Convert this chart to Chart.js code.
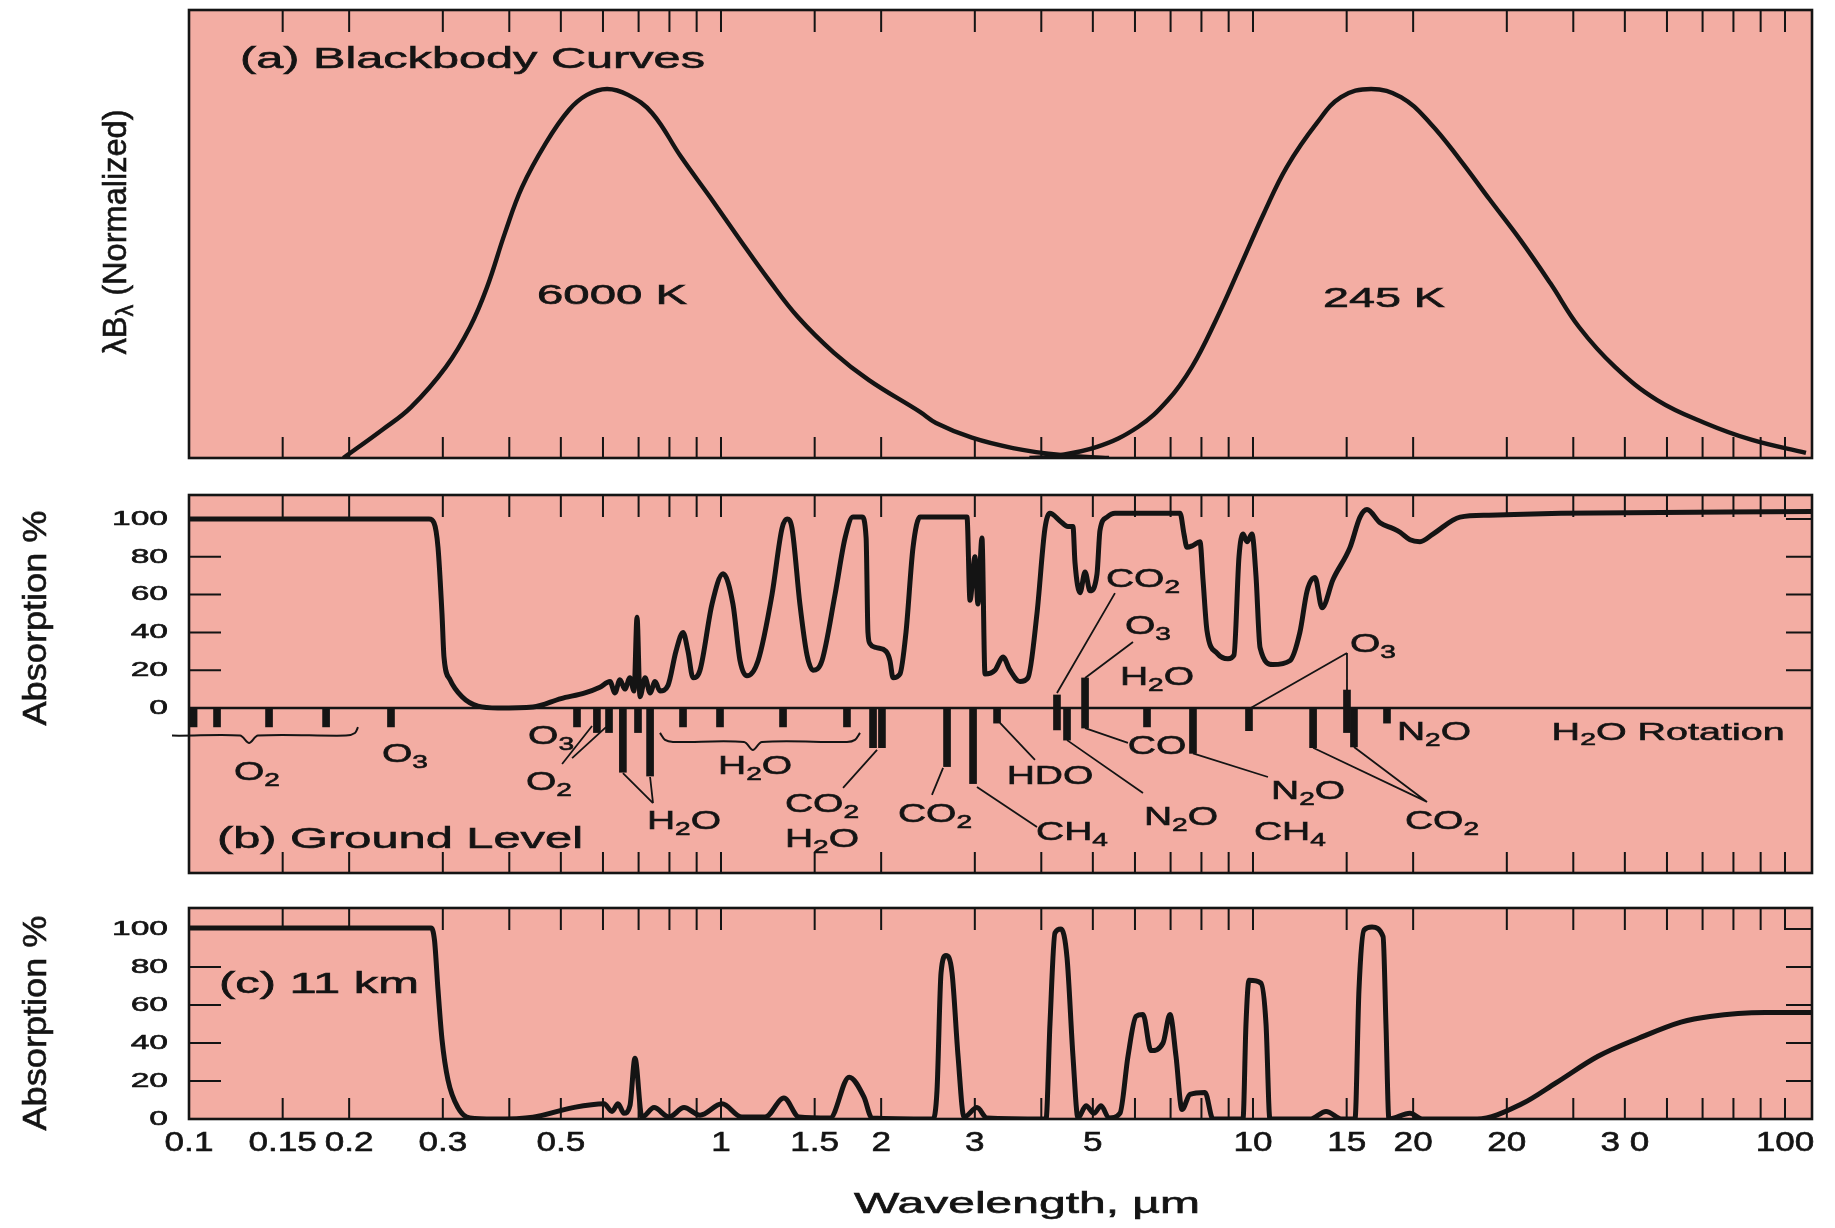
<!DOCTYPE html>
<html>
<head>
<meta charset="utf-8">
<script src="https://cdn.jsdelivr.net/npm/chart.js@4.4.1/dist/chart.umd.min.js"></script>
<style>
  html, body { margin: 0; padding: 0; background: #fff; }
  #wrap { position: relative; width: 1835px; height: 1228px; }
  canvas { position: absolute; left: 0; }
</style>
</head>
<body>
<div id="wrap">
  <canvas id="panelA" width="1835" height="470" style="top:0px"></canvas>
  <canvas id="panelB" width="1835" height="420" style="top:470px"></canvas>
  <canvas id="panelC" width="1835" height="338" style="top:890px"></canvas>
</div>
<script>
// wavelength axis (um), log scale
const X_MIN = 0.1, X_MAX = 112.4;
const PINK = '#F3ADA3';
const INK = '#141414';
const FONT = '"Liberation Sans", Arial, Helvetica, sans-serif';

// (a) blackbody curves, normalised lambda*B_lambda
const wl6000 = [0.195, 0.2306, 0.2615, 0.3041, 0.3375, 0.3633, 0.3926, 0.4227, 0.4688, 0.5178, 0.5598, 0.6107, 0.6687, 0.7419, 0.8412, 0.9535, 1.086, 1.231, 1.395, 1.631, 1.897, 2.366, 2.536, 2.963, 3.539, 4.356, 5.362];
const bb6000 = [0, 0.076, 0.138, 0.247, 0.355, 0.463, 0.610, 0.734, 0.854, 0.943, 0.984, 1.0, 0.984, 0.935, 0.816, 0.707, 0.591, 0.482, 0.382, 0.285, 0.211, 0.125, 0.095, 0.055, 0.027, 0.008, 0];
const wl245 = [3.8, 4.135, 5.091, 6.077, 6.921, 7.679, 8.521, 9.454, 10.49, 11.58, 13.19, 14.64, 16.67, 18.97, 21.51, 24.5, 27.9, 31.8, 36.2, 41.0, 47.9, 57.5, 70.7, 86.7, 109.5];
const bb245 = [0, 0.003, 0.030, 0.084, 0.157, 0.247, 0.374, 0.518, 0.664, 0.789, 0.908, 0.978, 1.0, 0.978, 0.908, 0.808, 0.699, 0.591, 0.474, 0.355, 0.247, 0.157, 0.095, 0.049, 0.014];

// (b) ground level absorption %
const groundWl = [0.1, 0.2826, 0.2887, 0.2938, 0.2989, 0.3015, 0.3095, 0.326, 0.3493, 0.3809, 0.4431, 0.5003, 0.5551, 0.592, 0.6185, 0.632, 0.6456, 0.6597, 0.6743, 0.6864, 0.6953, 0.7043, 0.7199, 0.7357, 0.7517, 0.7679, 0.7951, 0.8229, 0.8484, 0.8669, 0.8859, 0.9131, 0.9618, 1.009, 1.053, 1.086, 1.119, 1.174, 1.247, 1.302, 1.331, 1.36, 1.407, 1.451, 1.489, 1.548, 1.638, 1.711, 1.77, 1.841, 1.874, 1.889, 1.906, 1.956, 2.042, 2.078, 2.105, 2.17, 2.227, 2.296, 2.366, 2.9, 2.938, 3.002, 3.041, 3.094, 3.135, 3.273, 3.389, 3.493, 3.648, 3.776, 3.926, 4.064, 4.153, 4.337, 4.489, 4.588, 4.628, 4.73, 4.834, 4.94, 5.091, 5.157, 5.315, 5.502, 7.293, 7.418, 7.514, 7.712, 7.95, 8.054, 8.194, 8.556, 8.974, 9.21, 9.412, 9.576, 9.744, 9.957, 10.13, 10.31, 10.9, 11.73, 12.25, 12.64, 13.08, 13.48, 14.14, 15.22, 15.89, 16.38, 17.33, 18.33, 18.9, 19.73, 20.6, 21.79, 24.5, 27.77, 37.93, 112.4];
const groundAbs = [100, 100, 98, 85, 50, 27, 15, 6, 1, 0, 0.5, 5, 8, 11, 14, 8, 15, 10, 16, 9, 48, 6, 16, 8, 14, 9, 12, 30, 40, 30, 16, 20, 55, 71, 55, 25, 17, 25, 60, 95, 100, 95, 55, 28, 20, 25, 60, 90, 101, 101, 90, 40, 34, 32, 30, 25, 16, 18, 40, 85, 101, 101, 57, 80, 55, 90, 18, 20, 27, 20, 14, 16, 50, 95, 103, 99, 96, 96, 77, 61, 72, 62, 71, 94, 101, 103, 103, 92, 85, 86, 88, 68, 41, 29, 26, 28, 80, 92, 88, 92, 70, 32, 23, 25, 40, 62, 69, 53, 68, 85, 101, 105, 98, 95, 93, 89, 88, 92, 101, 102, 103, 104];

// (c) 11 km absorption %
const km11Wl = [0.1, 0.2851, 0.2894, 0.2938, 0.2989, 0.3068, 0.3203, 0.3375, 0.3744, 0.4431, 0.5269, 0.6027, 0.624, 0.6403, 0.657, 0.6743, 0.6891, 0.7103, 0.7484, 0.7984, 0.8521, 0.9131, 1.004, 1.095, 1.21, 1.313, 1.402, 1.603, 1.741, 1.857, 1.922, 2.503, 2.547, 2.592, 2.648, 2.718, 2.79, 2.863, 3.028, 3.162, 4.083, 4.153, 4.244, 4.356, 4.471, 4.588, 4.689, 4.854, 5.025, 5.181, 5.362, 5.623, 5.821, 6.027, 6.212, 6.43, 6.774, 6.982, 7.166, 7.355, 7.613, 8.124, 8.41, 9.576, 9.701, 9.828, 10.35, 10.58, 10.76, 12.8, 13.72, 14.7, 15.55, 15.82, 16.17, 16.74, 17.56, 17.78, 18.01, 19.73, 20.78, 26.37, 32.03, 37.11, 44.52, 53.17, 63.75, 72.27, 91.71, 112.4];
const km11Abs = [100.5, 100.5, 94, 68, 42, 20.5, 6, 0.5, 0, 1, 6, 8, 4, 8, 3, 7, 32, 1, 6, 1, 6, 2, 8, 1, 1, 11, 1, 0.5, 22, 11.5, 0.5, 0, 15, 77, 86, 77, 33, 1, 6, 0.5, 0, 50, 98, 100, 85, 33, 0.5, 7, 3, 7, 0.5, 3, 33, 54, 55, 36, 40, 55, 33, 5, 13, 14, 0, 0, 50, 73, 71.5, 50, 0, 0, 4, 0, 0, 68, 99.5, 101, 96, 50, 0, 3, 0, 0, 8, 19, 33, 42.6, 51, 54, 56, 56];

// axis ticks
const xTickVals = [0.1, 0.15, 0.2, 0.3, 0.5, 1, 1.5, 2, 3, 5, 10, 15, 20, 30, 50, 100];
const xTickLabels = ['0.1', '0.15', '0.2', '0.3', '0.5', '1', '1.5', '2', '3', '5', '10', '15', '20', '20', '3 0', '100'];
const minorTicks = [0.15, 0.2, 0.3, 0.4, 0.5, 0.6, 0.7, 0.8, 0.9, 1, 1.5, 2, 3, 4, 5, 6, 7, 8, 9, 10, 15, 20, 30, 40, 50, 60, 70, 80, 90, 100];
const absTicks = [0, 20, 40, 60, 80, 100];
const sideTicks = [20, 40, 60, 80, 100];

// absorption band markers under panel (b): centre wavelength, top, bottom
const bandWl = [0.102, 0.1129, 0.1414, 0.181, 0.2397, 0.5362, 0.5845, 0.6159, 0.654, 0.6982, 0.7357, 0.8484, 0.9957, 1.308, 1.725, 1.931, 2.007, 2.66, 2.977, 3.303, 4.281, 4.471, 4.834, 6.321, 7.712, 9.828, 12.97, 15.02, 15.48, 17.86];
const bandTop = [0, 0, 0, 0, 0, 0, 0, 0, 0, 0, 0, 0, 0, 0, 0, 0, 0, 0, 0, 0, 6.9, 0, 15.9, 0, 0, 0, 0, 9.5, 0, 0];
const bandBottom = [-10, -10, -10, -10, -10, -10, -13, -13, -34, -13, -36, -10, -10, -10, -10, -21, -21, -31, -40, -8, -11.6, -17, -10.6, -10, -24, -12, -21, -13, -20.6, -8];

// leader lines from markers to gas names
const leaderFrom = [[0.5027, -29.6], [0.5249, -26.5], [0.6541, -34.4], [0.7357, -36.5], [1.965, -22.2], [2.615, -31.7], [3.028, -41.8], [3.345, -7.9], [4.281, 7.9], [4.834, 15.9], [4.834, -10.6], [4.471, -17], [7.712, -24], [9.9, 0], [15.02, 9.5], [12.97, -21], [15.48, -20.6]];
const leaderTo = [[0.5723, -9.5], [0.6079, -10.1], [0.7451, -50.3], [0.7451, -50.3], [1.696, -42.3], [2.492, -46], [3.926, -63], [3.892, -27.5], [5.502, 60.8], [5.949, 34.9], [5.821, -18.5], [6.212, -45], [10.67, -36.5], [15.02, 29.1], [15.02, 29.1], [21.24, -49.7], [21.24, -49.7]];

// braces grouping the O2 and H2O bands
const braceO2Wl = [0.0874, 0.0894, 0.0929, 0.1247, 0.1297, 0.1348, 0.1972, 0.2051, 0.2078];
const braceO2Val = [-10.1, -13.2, -14.6, -14.6, -18.5, -14.6, -14.6, -13.2, -10.1];
const braceH2OWl = [0.768, 0.7848, 0.8125, 1.105, 1.148, 1.194, 1.725, 1.786, 1.825];
const braceH2OVal = [-13.2, -16.9, -18, -18, -22.2, -18, -18, -16.9, -13.2];

// gas names ("_" marks a subscript)
const gasNames = ['O_2', 'O_3', 'O_3', 'O_2', 'H_2O', 'H_2O', 'CO_2', 'H_2O', 'CO_2', 'CH_4', 'HDO', 'CO_2', 'O_3', 'H_2O', 'CO', 'N_2O', 'N_2O', 'CH_4', 'O_3', 'N_2O', 'CO_2'];
const gasWl = [0.1342, 0.2547, 0.4792, 0.4750, 0.852, 1.159, 1.548, 1.548, 2.525, 4.568, 4.153, 6.212, 6.348, 6.6, 6.6, 7.323, 12.69, 11.73, 16.81, 21.89, 22.66];
const gasVal = [-34.4, -24.9, -15.3, -39.7, -60.3, -31.2, -51.3, -69.8, -56.6, -66.1, -36.5, 67.7, 42.9, 15.9, -20.6, -58.2, -44.4, -66.1, 33.3, -13.2, -60.3];

const pts = (xs, ys) => xs.map((x, i) => ({ x: x, y: ys[i] }));

// text with "_" subscripts, optional horizontal stretch and rotation
function drawText(ctx, str, x, y, o) {
  const size = o.size, subSize = size * 0.72;
  const parts = [];
  for (let i = 0; i < str.length; i++) {
    if (str[i] === '_' && i + 1 < str.length) {
      parts.push({ t: str[i + 1], sub: true });
      i++;
    } else {
      const last = parts[parts.length - 1];
      if (last && !last.sub) last.t += str[i];
      else parts.push({ t: str[i], sub: false });
    }
  }
  ctx.save();
  let w = 0;
  parts.forEach(p => {
    ctx.font = (p.sub ? subSize : size) + 'px ' + FONT;
    p.w = ctx.measureText(p.t).width;
    w += p.w;
  });
  const sx = o.width ? o.width / w : (o.sx || 1);
  ctx.translate(x, y);
  if (o.rot) ctx.rotate(o.rot);
  ctx.scale(sx, 1);
  let cx = o.align === 'left' ? 0 : (o.align === 'right' ? -w : -w / 2);
  ctx.fillStyle = INK;
  ctx.strokeStyle = INK;
  ctx.lineWidth = 0.6;
  ctx.textBaseline = 'middle';
  ctx.textAlign = 'left';
  parts.forEach(p => {
    ctx.font = (p.sub ? subSize : size) + 'px ' + FONT;
    const ty = p.sub ? size * 0.3 : 0;
    ctx.fillText(p.t, cx, ty);
    ctx.strokeText(p.t, cx, ty);
    cx += p.w;
  });
  ctx.restore();
}

// background, frame, tick marks and all the lettering of one panel
function decorPlugin(cfg) {
  return {
    id: 'decor',
    beforeDatasetsDraw(chart) {
      const { ctx, chartArea: a } = chart;
      ctx.save();
      ctx.fillStyle = PINK;
      ctx.fillRect(a.left, a.top, a.right - a.left, a.bottom - a.top);
      ctx.restore();
    },
    afterDatasetsDraw(chart) {
      const { ctx, chartArea: a } = chart;
      const xs = chart.scales.x, ys = chart.scales.y;
      ctx.save();
      ctx.strokeStyle = INK;
      ctx.lineWidth = 2;
      ctx.beginPath();
      minorTicks.forEach(v => {
        const px = xs.getPixelForValue(v);
        ctx.moveTo(px, a.top); ctx.lineTo(px, a.top + 22);
        ctx.moveTo(px, a.bottom); ctx.lineTo(px, a.bottom - 21);
      });
      if (cfg.absAxis) {
        sideTicks.forEach(v => {
          const py = ys.getPixelForValue(v);
          ctx.moveTo(a.left, py); ctx.lineTo(a.left + 32, py);
          ctx.moveTo(a.right, py); ctx.lineTo(a.right - 26, py);
        });
      }
      ctx.stroke();
      ctx.lineWidth = 2.6;
      ctx.strokeRect(a.left, a.top, a.right - a.left, a.bottom - a.top);

      if (cfg.absAxis) {
        absTicks.forEach(v => {
          drawText(ctx, String(v), a.left - 21, ys.getPixelForValue(v), { size: 21, sx: 1.6, align: 'right' });
        });
      }
      if (cfg.yTitle) {
        const t = cfg.yTitle;
        drawText(ctx, t.text, a.left + t.dx, a.top + t.dy, { size: t.size, width: t.width, rot: -Math.PI / 2 });
      }
      (cfg.pxTexts || []).forEach(t => {
        drawText(ctx, t.text, a.left + t.dx, a.top + t.dy, t);
      });
      (cfg.dataTexts || []).forEach(t => {
        drawText(ctx, t.text, xs.getPixelForValue(t.wl), ys.getPixelForValue(t.val), t);
      });
      if (cfg.xLabels) {
        xTickVals.forEach((v, i) => {
          drawText(ctx, xTickLabels[i], xs.getPixelForValue(v), a.bottom + 25, { size: 27, sx: 1.3 });
        });
        drawText(ctx, 'Wavelength, \u00b5m', a.left + 838, a.bottom + 86, { size: 30, width: 346 });
      }
      ctx.restore();
    }
  };
}

function makePanel(id, datasets, yMin, yMax, padding, decor) {
  return new Chart(document.getElementById(id), {
    type: 'line',
    data: { datasets: datasets },
    options: {
      responsive: false,
      animation: false,
      devicePixelRatio: 1,
      layout: { padding: padding },
      plugins: { legend: { display: false }, tooltip: { enabled: false } },
      elements: { point: { radius: 0 } },
      scales: {
        x: { type: 'logarithmic', min: X_MIN, max: X_MAX, display: false },
        y: { type: 'linear', min: yMin, max: yMax, display: false }
      }
    },
    plugins: [decorPlugin(decor)]
  });
}

const curveStyle = { borderColor: INK, borderWidth: 5, fill: false, cubicInterpolationMode: 'monotone', pointRadius: 0 };
const smoothStyle = { borderColor: INK, borderWidth: 4.4, fill: false, tension: 0.4, pointRadius: 0 };

// panel (a)
makePanel('panelA', [
  Object.assign({ data: pts(wl6000, bb6000) }, smoothStyle),
  Object.assign({ data: pts(wl245, bb245) }, smoothStyle)
], 0, 1.214, { left: 189, right: 23, top: 10, bottom: 12 }, {
  yTitle: { text: '\u03bbB_\u03bb (Normalized)', dx: -72, dy: 222, size: 33, width: 245 },
  pxTexts: [{ text: '(a) Blackbody Curves', dx: 51, dy: 50, size: 30, width: 465, align: 'left' }],
  dataTexts: [
    { text: '6000 K', wl: 0.624, val: 0.439, size: 28, width: 150 },
    { text: '245 K', wl: 17.63, val: 0.431, size: 28, width: 122 }
  ]
});

// panel (b)
const leaderData = [];
leaderFrom.forEach((f, i) => {
  leaderData.push({ x: f[0], y: f[1] });
  leaderData.push({ x: leaderTo[i][0], y: leaderTo[i][1] });
  leaderData.push({ x: leaderTo[i][0], y: null });
});
const gasTexts = gasNames.map((n, i) => ({ text: n, wl: gasWl[i], val: gasVal[i], size: 26, sx: 1.5 }));
gasTexts.push({ text: 'H_2O Rotation', wl: 60.3, val: -13.2, size: 24, width: 233 });
gasTexts.push({ text: '(b) Ground Level', wl: 0.2492, val: -69.8, size: 30, width: 366 });

makePanel('panelB', [
  Object.assign({ data: pts(groundWl, groundAbs) }, curveStyle),
  { data: [{ x: X_MIN, y: 0 }, { x: X_MAX, y: 0 }], borderColor: INK, borderWidth: 2.6, pointRadius: 0 },
  { type: 'bar', data: bandWl.map((l, i) => ({ x: l, y: [bandBottom[i], bandTop[i]] })), backgroundColor: INK, barThickness: 7, grouped: false },
  { data: leaderData, borderColor: INK, borderWidth: 1.8, pointRadius: 0, spanGaps: false },
  { data: pts(braceO2Wl, braceO2Val), borderColor: INK, borderWidth: 2, pointRadius: 0, tension: 0.3, clip: false },
  { data: pts(braceH2OWl, braceH2OVal), borderColor: INK, borderWidth: 2, pointRadius: 0, tension: 0.3, clip: false }
], -87.3, 112.7, { left: 189, right: 23, top: 25, bottom: 17 }, {
  absAxis: true,
  yTitle: { text: 'Absorption %', dx: -152, dy: 123, size: 33, width: 215 },
  dataTexts: gasTexts
});

// panel (c)
makePanel('panelC', [
  Object.assign({ data: pts(km11Wl, km11Abs) }, curveStyle)
], 0, 111.05, { left: 189, right: 23, top: 18, bottom: 109 }, {
  absAxis: true,
  xLabels: true,
  yTitle: { text: 'Absorption %', dx: -152, dy: 115, size: 33, width: 215 },
  dataTexts: [{ text: '(c) 11 km', wl: 0.1755, val: 70.5, size: 30, width: 200 }]
});
</script>
</body>
</html>
